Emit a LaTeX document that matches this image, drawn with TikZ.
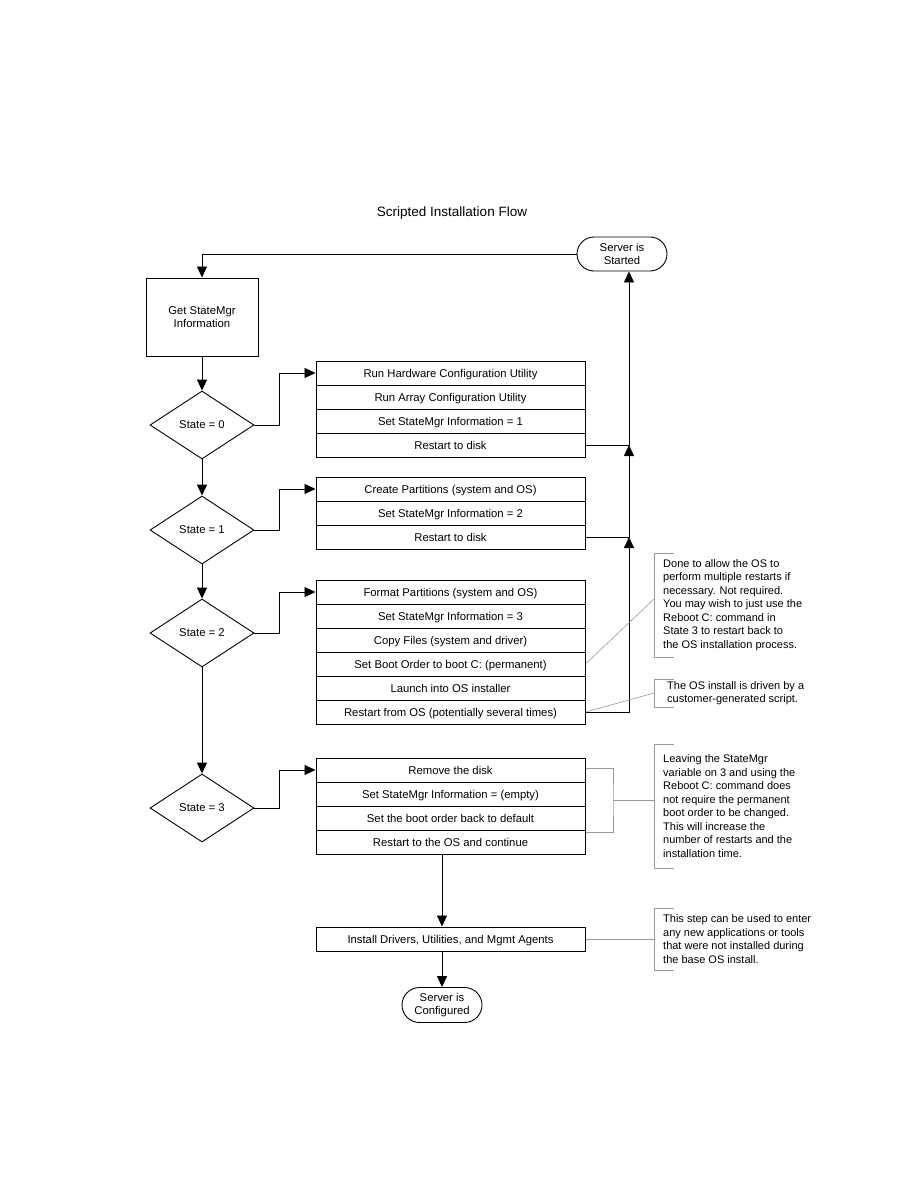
\documentclass[tikz,border=0pt]{standalone}
\usepackage{fontspec}
\setmainfont{Liberation Sans}
\usetikzlibrary{shapes.geometric,shapes.misc,arrows.meta}
\tikzset{
  txt/.style={font=\fontsize{11.3}{13}\selectfont},
  rowbox/.style={txt, draw, line width=1pt, minimum width=269pt, minimum height=24pt, inner sep=0pt, text height=9pt, text depth=1pt},
  decision/.style={txt, draw, diamond, aspect=1.5, line width=0.9pt, minimum width=104pt, minimum height=68pt, inner sep=1pt},
  terminal/.style={txt, draw, rounded rectangle, line width=0.9pt, align=center, inner sep=1pt},
  procbox/.style={txt, draw, line width=1pt, align=center, inner sep=1pt},
  arr/.style={-{Triangle[length=11pt,width=10pt]}, line width=0.9pt},
  note/.style={font=\fontsize{11}{13.5}\selectfont, anchor=west, align=left, inner xsep=9pt, inner ysep=0pt},
  gline/.style={draw=black!40, line width=0.6pt},
}
\begin{document}
\begin{tikzpicture}[x=1pt,y=-1pt]
\useasboundingbox (0,0) rectangle (918,1188);
\node[font=\fontsize{13.5}{15}\selectfont] (title) at (452,213) {Scripted Installation Flow};

\node[terminal, minimum width=92pt, minimum height=34pt] (start) at (622,254) {Server is\\Started};
\node[procbox, minimum width=112pt, minimum height=78pt] (get) at (202,317) {Get StateMgr\\Information};

\node[decision] (d0) at (202,425) {State = 0};
\node[decision] (d1) at (202,530) {State = 1};
\node[decision] (d2) at (202,633) {State = 2};
\node[decision] (d3) at (202,808) {State = 3};

\node[rowbox] (g1r1) at (450.5,373) {Run Hardware Configuration Utility};
\node[rowbox] (g1r2) at (450.5,397) {Run Array Configuration Utility};
\node[rowbox] (g1r3) at (450.5,421) {Set StateMgr Information = 1};
\node[rowbox] (g1r4) at (450.5,445) {Restart to disk};

\node[rowbox] (g2r1) at (450.5,489) {Create Partitions (system and OS)};
\node[rowbox] (g2r2) at (450.5,513) {Set StateMgr Information = 2};
\node[rowbox] (g2r3) at (450.5,537) {Restart to disk};

\node[rowbox] (g3r1) at (450.5,592) {Format Partitions (system and OS)};
\node[rowbox] (g3r2) at (450.5,616) {Set StateMgr Information = 3};
\node[rowbox] (g3r3) at (450.5,640) {Copy Files (system and driver)};
\node[rowbox] (g3r4) at (450.5,664) {Set Boot Order to boot C: (permanent)};
\node[rowbox] (g3r5) at (450.5,688) {Launch into OS installer};
\node[rowbox] (g3r6) at (450.5,712) {Restart from OS (potentially several times)};

\node[rowbox] (g4r1) at (450.5,770) {Remove the disk};
\node[rowbox] (g4r2) at (450.5,794) {Set StateMgr Information = (empty)};
\node[rowbox] (g4r3) at (450.5,818) {Set the boot order back to default};
\node[rowbox] (g4r4) at (450.5,842) {Restart to the OS and continue};

\node[rowbox] (inst) at (450.5,939) {Install Drivers, Utilities, and Mgmt Agents};
\node[terminal, minimum width=82pt, minimum height=35pt] (conf) at (442,1005) {Server is\\Configured};

% main flow
\draw[arr] (start.west) -| (get.north);
\draw[arr] (get.south) -- (d0.north);
\draw[arr] (d0.south) -- (d1.north);
\draw[arr] (d1.south) -- (d2.north);
\draw[arr] (d2.south) -- (d3.north);
\draw[arr] (d0.east) -- ++(25,0) |- (g1r1.west);
\draw[arr] (d1.east) -- ++(25,0) |- (g2r1.west);
\draw[arr] (d2.east) -- ++(25,0) |- (g3r1.west);
\draw[arr] (d3.east) -- ++(25,0) |- (g4r1.west);
\draw[arr] (g4r4.south -| conf) -- (inst.north -| conf);
\draw[arr] (inst.south -| conf) -- (conf.north);

% return lines
\coordinate (rx) at (629,0);
\draw[arr] (g3r6.east) -- (g3r6.east -| rx) -- (g2r3.east -| rx);
\draw[arr] (g2r3.east) -- (g2r3.east -| rx) -- (g1r4.east -| rx);
\draw[arr] (g1r4.east) -- (g1r4.east -| rx) -- (start.south -| rx);

% notes
\node[note, minimum height=104pt] (n1) at (654,605) {Done to allow the OS to\\perform multiple restarts if\\necessary. Not required.\\You may wish to just use the\\Reboot C: command in\\State 3 to restart back to\\the OS installation process.};
\node[note, minimum height=28pt, inner xsep=13pt] (n2) at (654,693) {The OS install is driven by a\\customer-generated script.};
\node[note, minimum height=124pt] (n3) at (654,806) {Leaving the StateMgr\\variable on 3 and using the\\Reboot C: command does\\not require the permanent\\boot order to be changed.\\This will increase the\\number of restarts and the\\installation time.};
\node[note, minimum height=62pt] (n4) at (654,939) {This step can be used to enter\\any new applications or tools\\that were not installed during\\the base OS install.};

\foreach \n in {n1,n2,n3,n4}{
  \draw[gline] ([xshift=20pt]\n.north west) -- (\n.north west) -- (\n.south west) -- ([xshift=20pt]\n.south west);
}
\draw[gline] (g3r4.east) -- ([yshift=6pt]n1.west);
\draw[gline] (g3r6.east) -- (n2.west);
\coordinate (b3) at (613,800);
\draw[gline] ([yshift=2pt]g4r1.east) -| (b3) |- ([yshift=10pt]g4r4.east);
\draw[gline] (b3) -- (b3 -| n3.west);
\draw[gline] (inst.east) -- (n4.west);
\end{tikzpicture}
\end{document}
